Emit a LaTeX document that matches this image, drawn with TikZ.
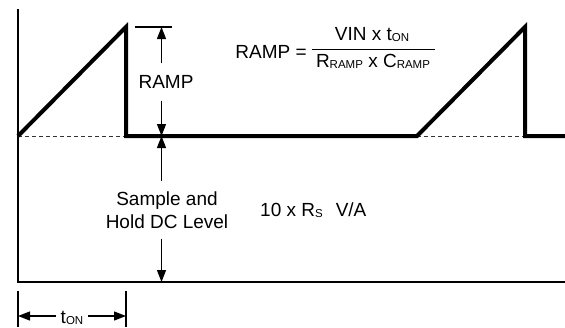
\documentclass[tikz,border=0pt]{standalone}
\usepackage{fontspec}
\setmainfont{Liberation Sans}
\usetikzlibrary{arrows.meta}
\newcommand\subtxt[1]{\raisebox{-1pt}{\fontsize{11.5}{11.5}\selectfont #1}}
\begin{document}
\begin{tikzpicture}[x=1pt,y=-1pt,
  wave/.style={line width=4pt},
  axisline/.style={line width=1.6pt},
  thinline/.style={line width=1.3pt},
  dashline/.style={line width=0.9pt,dash pattern=on 4pt off 3pt,black!80},
  dimarrow/.style={line width=1.3pt,-{Triangle[length=12pt,width=9pt]}},
  lbl/.style={font=\fontsize{19}{23}\selectfont,inner sep=0pt},
]
\useasboundingbox (0,0) rectangle (565,327);
% axes and waveform points
\coordinate (axtop) at (18,9);
\coordinate (orig) at (18,282);
\coordinate (axend) at (565,282);
\coordinate (r0) at (18,136);
\coordinate (p1) at (126,27);
\coordinate (d1) at (126,136);
\coordinate (r2) at (417,136);
\coordinate (p2) at (525,27);
\coordinate (d2) at (525,136);
\coordinate (wend) at (565,136);
\draw[axisline] (axtop) -- (orig) -- (axend);
\draw[dashline] (r0) -- (d1);
\draw[dashline] (r2) -- (d2);
\draw[wave] (r0) -- (p1) -- (d1) -- (r2) -- (p2) -- (d2) -- (wend);
% RAMP dimension
\coordinate (tickL) at (135,27);
\coordinate (tickR) at (172,27);
\coordinate (rtop) at (161.5,27);
\coordinate (rbase) at (161.5,136);
\coordinate (shbot) at (161.5,282);
\draw[thinline] (tickL) -- (tickR);
\node[lbl,text height=13.7pt,text depth=0pt,inner ysep=11.5pt] (ramplbl) at (166,82) {RAMP};
\draw[dimarrow] (ramplbl.north -| rtop) -- (rtop);
\draw[dimarrow] (ramplbl.south -| rtop) -- (rbase);
% Sample and hold
\node[lbl,align=center,inner ysep=10pt] (shlbl) at (167,210) {Sample and\\Hold DC Level};
\draw[dimarrow] (shlbl.north -| rtop) -- (rbase);
\draw[dimarrow] (shlbl.south -| rtop) -- (shbot);
% formula
\node[lbl,text height=13.7pt,text depth=0pt] (eqlhs) at (271,51.5) {RAMP =};
\node[lbl,anchor=base] (num) at (372,40) {VIN x t\subtxt{ON}};
\node[lbl,anchor=base] (den) at (373,67.5) {R\subtxt{RAMP} x C\subtxt{RAMP}};
\coordinate (barL) at (312,49.5);
\coordinate (barR) at (435,49.5);
\draw[line width=1.3pt] (barL) -- (barR);
% gain
\node[lbl,anchor=base west] (gain) at (260,216.5) {10 x R\subtxt{S}\hspace{13pt}V/A};
% t_ON dimension
\coordinate (tl) at (18,291);
\coordinate (tlb) at (18,327);
\coordinate (tr) at (126,291);
\coordinate (trb) at (126,327);
\draw[thinline] (tl) -- (tlb);
\draw[thinline] (tr) -- (trb);
\node[lbl,anchor=base,inner xsep=5pt] (tonlbl) at (72,323.5) {t\subtxt{ON}};
\draw[dimarrow] (tonlbl.west |- 0,316) -- (tl |- 0,316);
\draw[dimarrow] (tonlbl.east |- 0,316) -- (tr |- 0,316);
\end{tikzpicture}
\end{document}
